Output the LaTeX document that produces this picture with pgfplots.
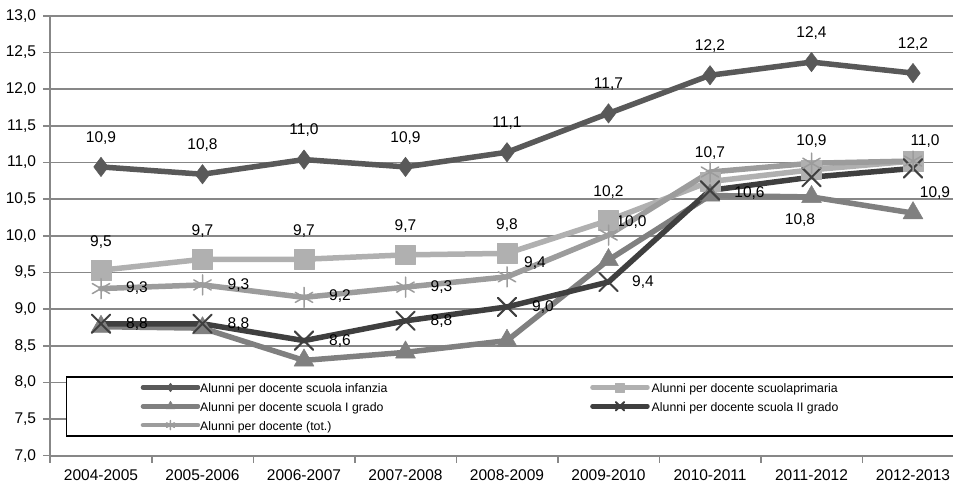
\documentclass[border=0pt]{standalone}
\usepackage{fontspec}
\setmainfont{Liberation Sans}
\usepackage{pgfplots}
\pgfplotsset{compat=1.18}
\definecolor{cInf}{HTML}{595959}
\definecolor{cPri}{HTML}{B0B0B0}
\definecolor{cI}{HTML}{808080}
\definecolor{cII}{HTML}{3F3F3F}
\definecolor{cTot}{HTML}{9C9C9C}
\definecolor{gridgray}{HTML}{878787}
\newcommand{\lf}{\fontsize{12.3}{14}\selectfont}
\newcommand{\st}{\rule[-3.5pt]{0pt}{15.5pt}}
\newcommand{\tf}{\fontsize{15.5}{18}\selectfont}
\begin{document}
\begin{tikzpicture}[x=1pt,y=1pt,
  lbl/.style={font=\tf, inner sep=0pt, anchor=center, text=black}]
\useasboundingbox (0,0) rectangle (953,482);
\begin{axis}[
  at={(50.25pt,26.3pt)}, anchor=south west,
  scale only axis, width=913.5pt, height=439.8pt,
  xmin=-0.5, xmax=8.5, ymin=7, ymax=13,
  clip=false,
  /pgf/number format/assume math mode=true,
  axis lines*=left,
  axis line style={draw=gridgray, line width=2pt},
  ymajorgrids,
  grid style={draw=gridgray, line width=1.5pt},
  ytick={7,7.5,8,8.5,9,9.5,10,10.5,11,11.5,12,12.5,13},
  scaled y ticks=false,
  yticklabel style={/pgf/number format/.cd, fixed, fixed zerofill, precision=1, use comma, assume math mode=true, /tikz/.cd, inner sep=0pt, xshift=-7pt},
  tick align=outside,
  major tick length=7pt,
  ytick style={draw=gridgray, line width=1.5pt},
  xtick={0,...,8},
  xticklabels={2004-2005,2005-2006,2006-2007,2007-2008,2008-2009,2009-2010,2010-2011,2011-2012,2012-2013},
  xtick style={draw=none},
  xticklabel style={inner sep=0pt, yshift=-6.5pt},
  extra x ticks={-0.5,0.5,1.5,2.5,3.5,4.5,5.5,6.5,7.5,8.5},
  extra x tick labels={},
  extra x tick style={xtick style={draw=gridgray, line width=1.5pt}},
  tick label style={font=\tf},
  every axis plot/.append style={line width=5.5pt, line join=round, line cap=round},
  legend columns=2,
  legend cell align=left,
  legend style={at={(0.0169,0.1812)}, anchor=north west, draw=black, line width=1.5pt, fill=white,
    inner xsep=74.3pt, inner ysep=4pt, row sep=5.3pt, column sep=0pt,
    nodes={inner sep=0pt}, font=\lf},
  legend image code/.code={%
    \draw[mark repeat=2,mark phase=2, line width=4.5pt, every mark/.append style={scale=0.45}]
      plot coordinates {(0pt,0pt) (27.5pt,0pt) (55pt,0pt)};},
]
\addplot[color=cInf, mark=diamond*, mark size=9.7pt, mark options={solid, fill=cInf, draw=cInf, line width=0.5pt}]
  coordinates {(0,10.94) (1,10.84) (2,11.04) (3,10.94) (4,11.14) (5,11.67) (6,12.19) (7,12.37) (8,12.22)};
\addlegendentry{\makebox[390pt][l]{\hspace{0pt}\st Alunni per docente scuola infanzia}}
\addplot[color=cPri, mark=square*, mark size=9.8pt, mark options={solid, fill=cPri, draw=cPri, line width=0.5pt}]
  coordinates {(0,9.53) (1,9.68) (2,9.68) (3,9.74) (4,9.76) (5,10.21) (6,10.74) (7,10.90) (8,11.02)};
\addlegendentry{\makebox[245pt][l]{\hspace{2pt}\st Alunni per docente scuolaprimaria}}
\addplot[color=cI, mark=triangle*, mark size=11.5pt, mark options={solid, fill=cI, draw=cI, line width=0.5pt}]
  coordinates {(0,8.76) (1,8.74) (2,8.30) (3,8.41) (4,8.57) (5,9.67) (6,10.55) (7,10.53) (8,10.31)};
\addlegendentry{\makebox[390pt][l]{\hspace{0pt}\st Alunni per docente scuola I grado}}
\addplot[color=cII, mark=x, mark size=13pt, mark options={solid, draw=cII, line width=2pt}]
  coordinates {(0,8.80) (1,8.80) (2,8.57) (3,8.84) (4,9.03) (5,9.37) (6,10.62) (7,10.80) (8,10.92)};
\addlegendentry{\makebox[245pt][l]{\hspace{2pt}\st Alunni per docente scuola II grado}}
\addplot[color=cTot, mark=asterisk, mark size=10pt, mark options={solid, draw=cTot, line width=1.5pt}]
  coordinates {(0,9.28) (1,9.33) (2,9.16) (3,9.30) (4,9.44) (5,10.01) (6,10.87) (7,10.99) (8,11.02)};
\addlegendentry{\makebox[390pt][l]{\hspace{0pt}\st Alunni per docente (tot.)}}
% infanzia labels (above)
\node[lbl, yshift=29pt] at (axis cs:0,10.94) {10,9};
\node[lbl, yshift=29pt] at (axis cs:1,10.84) {10,8};
\node[lbl, yshift=29pt] at (axis cs:2,11.04) {11,0};
\node[lbl, yshift=29pt] at (axis cs:3,10.94) {10,9};
\node[lbl, yshift=29pt] at (axis cs:4,11.14) {11,1};
\node[lbl, yshift=29pt] at (axis cs:5,11.67) {11,7};
\node[lbl, yshift=29pt] at (axis cs:6,12.19) {12,2};
\node[lbl, yshift=29pt] at (axis cs:7,12.37) {12,4};
\node[lbl, yshift=29pt] at (axis cs:8,12.22) {12,2};
% primaria labels (above)
\node[lbl, yshift=28.5pt] at (axis cs:0,9.53) {9,5};
\node[lbl, yshift=28.5pt] at (axis cs:1,9.68) {9,7};
\node[lbl, yshift=28.5pt] at (axis cs:2,9.68) {9,7};
\node[lbl, yshift=28.5pt] at (axis cs:3,9.74) {9,7};
\node[lbl, yshift=28.5pt] at (axis cs:4,9.76) {9,8};
\node[lbl, yshift=28.5pt] at (axis cs:5,10.21) {10,2};
\node[lbl, yshift=28.5pt] at (axis cs:6,10.74) {10,7};
\node[lbl, yshift=28.5pt] at (axis cs:7,10.90) {10,9};
\node[lbl, xshift=12pt, yshift=19.7pt] at (axis cs:8,11.02) {11,0};
% totale labels (right)
\node[lbl, xshift=36pt] at (axis cs:0,9.28) {9,3};
\node[lbl, xshift=36pt] at (axis cs:1,9.33) {9,3};
\node[lbl, xshift=36pt, yshift=1pt] at (axis cs:2,9.16) {9,2};
\node[lbl, xshift=36pt] at (axis cs:3,9.30) {9,3};
\node[lbl, xshift=28pt, yshift=13.5pt] at (axis cs:4,9.44) {9,4};
\node[lbl, xshift=23pt, yshift=13.3pt] at (axis cs:5,10.01) {10,0};
% II grado labels (right)
\node[lbl, xshift=36pt] at (axis cs:0,8.80) {8,8};
\node[lbl, xshift=36pt] at (axis cs:1,8.80) {8,8};
\node[lbl, xshift=36pt] at (axis cs:2,8.57) {8,6};
\node[lbl, xshift=36pt] at (axis cs:3,8.84) {8,8};
\node[lbl, xshift=36pt] at (axis cs:4,9.03) {9,0};
\node[lbl, xshift=34.5pt] at (axis cs:5,9.37) {9,4};
\node[lbl, xshift=39.5pt, yshift=-3pt] at (axis cs:6,10.62) {10,6};
\node[lbl, xshift=-11.5pt, yshift=-43pt] at (axis cs:7,10.80) {10,8};
\node[lbl, xshift=22pt, yshift=-25pt] at (axis cs:8,10.92) {10,9};
\end{axis}
\end{tikzpicture}
\end{document}
